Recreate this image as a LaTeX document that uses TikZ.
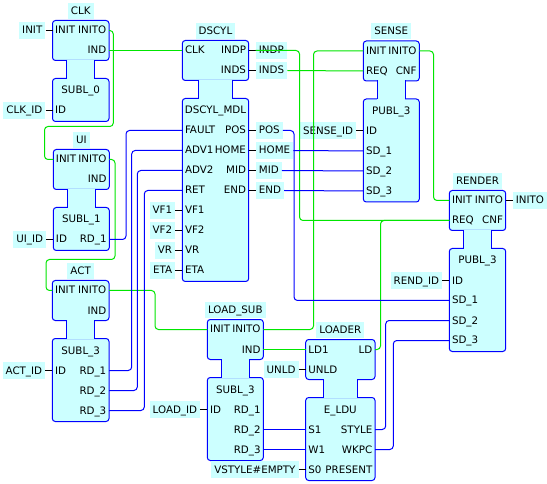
\documentclass[tikz,border=0pt]{standalone}
\usepackage{fontspec}
\setmainfont{DejaVu Sans}
\definecolor{fbcyan}{RGB}{204,255,255}
\definecolor{fbblue}{RGB}{0,0,255}
\definecolor{fbgreen}{RGB}{0,230,0}
\tikzset{
  fbbox/.style={draw=fbblue, fill=fbcyan, line width=1pt, rounded corners=3pt},
  fbline/.style={draw=fbblue, line width=1pt},
  fbtxt/.style={font=\fontsize{10.3}{12}\selectfont, text height=7.5pt, text depth=0.5pt},
  fbport/.style={fbtxt, inner sep=0pt},
  fblab/.style={fbtxt, fill=fbcyan, inner xsep=3pt, inner ysep=0pt, minimum height=17pt},
  fbtitle/.style={fblab, anchor=south, minimum height=16pt},
  tick/.style={draw=black, line width=1pt},
  ev/.style={draw=fbgreen, line width=1pt, rounded corners=3.5pt},
  dat/.style={draw=fbblue, line width=1pt, rounded corners=3.5pt},
}
% #1 id, #2 title, #3 L, #4 R, #5 first event row, #6 event rows, #7 data rows
\newcommand\fbBlock[7]{%
  \pgfmathsetmacro\fbL{#3}%
  \pgfmathsetmacro\fbR{#4}%
  \pgfmathsetmacro\fbT{#5-10}%
  \pgfmathsetmacro\fbBa{#5+20*(#6-1)+10}%
  \pgfmathsetmacro\fbBb{\fbBa+18}%
  \pgfmathsetmacro\fbBc{#5+20*(#6-1)+40+20*(#7-1)+11}%
  \pgfmathsetmacro\fbNa{#3+(#4-#3)/4}%
  \pgfmathsetmacro\fbNb{#4-(#4-#3)/4}%
  \pgfmathsetmacro\fbM{(#3+#4)/2}%
  \draw[fbbox] (\fbL,\fbT) rectangle (\fbR,\fbBa);
  \draw[fbbox] (\fbL,\fbBb) rectangle (\fbR,\fbBc);
  \fill[fbcyan] (\fbNa,\fbBa-0.8) rectangle (\fbNb,\fbBb+0.8);
  \draw[fbline] (\fbNa,\fbBa-0.5) -- (\fbNa,\fbBb+0.5) (\fbNb,\fbBa-0.5) -- (\fbNb,\fbBb+0.5);
  \node[fbtitle] (#1-title) at (\fbM,\fbT-1.5) {#2};
}
\newcommand\fbInL[3]{%
  \coordinate (#1) at (\fbL,#2);
  \node[fbport,anchor=west] (#1-t) at (\fbL+2.5,#2) {#3};}
\newcommand\fbInR[3]{%
  \coordinate (#1) at (\fbR,#2);
  \node[fbport,anchor=east] (#1-t) at (\fbR-2.5,#2) {#3};}
\newcommand\fbType[3]{\node[fbport] (#1) at (\fbM,#2) {#3};}
\newcommand\fbLabL[3]{%
  \node[fblab,anchor=east] (#2) at ([xshift=-7pt]#1) {#3};
  \draw[tick] (#2.east) -- (#1);}
\newcommand\fbLabR[3]{%
  \node[fblab,anchor=west] (#2) at ([xshift=7pt]#1) {#3};
  \draw[tick] (#1) -- (#2.west);}
\begin{document}
\begin{tikzpicture}[x=1pt,y=-1pt]
\fill[white] (0,0) rectangle (547,484);
\useasboundingbox (0,0) rectangle (547,484);

% CLK
\fbBlock{clk}{CLK}{52.5}{109}{30.5}{2}{2}
\fbInL{clk-INIT}{30.5}{INIT}
\fbInR{clk-INITO}{30.5}{INITO}
\fbInR{clk-IND}{50.5}{IND}
\fbType{clk-type}{90.5}{SUBL\_0}
\fbInL{clk-ID}{110.5}{ID}

% UI
\fbBlock{ui}{UI}{53.3}{109.3}{159.5}{2}{2}
\fbInL{ui-INIT}{159.5}{INIT}
\fbInR{ui-INITO}{159.5}{INITO}
\fbInR{ui-IND}{179.5}{IND}
\fbType{ui-type}{219.5}{SUBL\_1}
\fbInL{ui-ID}{239.5}{ID}
\fbInR{ui-RD1}{239.5}{RD\_1}

% ACT
\fbBlock{act}{ACT}{52.3}{109}{290.5}{2}{4}
\fbInL{act-INIT}{290.5}{INIT}
\fbInR{act-INITO}{290.5}{INITO}
\fbInR{act-IND}{310.5}{IND}
\fbType{act-type}{350.5}{SUBL\_3}
\fbInL{act-ID}{370.5}{ID}
\fbInR{act-RD1}{370.5}{RD\_1}
\fbInR{act-RD2}{390.5}{RD\_2}
\fbInR{act-RD3}{410.5}{RD\_3}

% DSCYL
\fbBlock{dscyl}{DSCYL}{182.3}{248.7}{50.5}{2}{9}
\fbInL{dscyl-CLK}{50.5}{CLK}
\fbInR{dscyl-INDP}{50.5}{INDP}
\fbInR{dscyl-INDS}{70.5}{INDS}
\fbType{dscyl-type}{110.5}{DSCYL\_MDL}
\fbInL{dscyl-FAULT}{130.5}{FAULT}
\fbInR{dscyl-POS}{130.5}{POS}
\fbInL{dscyl-ADV1}{150.5}{ADV1}
\fbInR{dscyl-HOME}{150.5}{HOME}
\fbInL{dscyl-ADV2}{170.5}{ADV2}
\fbInR{dscyl-MID}{170.5}{MID}
\fbInL{dscyl-RET}{190.5}{RET}
\fbInR{dscyl-END}{190.5}{END}
\fbInL{dscyl-VF1}{210.5}{VF1}
\fbInL{dscyl-VF2}{230.5}{VF2}
\fbInL{dscyl-VR}{250.5}{VR}
\fbInL{dscyl-ETA}{270.5}{ETA}

% SENSE
\fbBlock{sense}{SENSE}{363.3}{419.3}{51}{2}{5}
\fbInL{sense-INIT}{51}{INIT}
\fbInR{sense-INITO}{51}{INITO}
\fbInL{sense-REQ}{71}{REQ}
\fbInR{sense-CNF}{71}{CNF}
\fbType{sense-type}{111}{PUBL\_3}
\fbInL{sense-ID}{131}{ID}
\fbInL{sense-SD1}{151}{SD\_1}
\fbInL{sense-SD2}{171}{SD\_2}
\fbInL{sense-SD3}{191}{SD\_3}

% RENDER
\fbBlock{render}{RENDER}{449.3}{505.7}{200.5}{2}{5}
\fbInL{render-INIT}{200.5}{INIT}
\fbInR{render-INITO}{200.5}{INITO}
\fbInL{render-REQ}{220.5}{REQ}
\fbInR{render-CNF}{220.5}{CNF}
\fbType{render-type}{260.5}{PUBL\_3}
\fbInL{render-ID}{280.5}{ID}
\fbInL{render-SD1}{300.5}{SD\_1}
\fbInL{render-SD2}{320.5}{SD\_2}
\fbInL{render-SD3}{340.5}{SD\_3}

% LOAD_SUB
\fbBlock{ls}{LOAD\_SUB}{207.3}{263.3}{329.5}{2}{4}
\fbInL{ls-INIT}{329.5}{INIT}
\fbInR{ls-INITO}{329.5}{INITO}
\fbInR{ls-IND}{349.5}{IND}
\fbType{ls-type}{389.5}{SUBL\_3}
\fbInL{ls-ID}{409.5}{ID}
\fbInR{ls-RD1}{409.5}{RD\_1}
\fbInR{ls-RD2}{429.5}{RD\_2}
\fbInR{ls-RD3}{449.5}{RD\_3}

% LOADER
\fbBlock{ld}{LOADER}{305.7}{375}{349.5}{2}{4}
\fbInL{ld-LD1}{349.5}{LD1}
\fbInR{ld-LD}{349.5}{LD}
\fbInL{ld-UNLD}{369.5}{UNLD}
\fbType{ld-type}{409.5}{E\_LDU}
\fbInL{ld-S1}{429.5}{S1}
\fbInR{ld-STYLE}{429.5}{STYLE}
\fbInL{ld-W1}{449.5}{W1}
\fbInR{ld-WKPC}{449.5}{WKPC}
\fbInL{ld-S0}{469.5}{S0}
\fbInR{ld-PRESENT}{469.5}{PRESENT}

% external labels
\fbLabL{clk-INIT}{lclkinit}{INIT}
\fbLabL{clk-ID}{lclkid}{CLK\_ID}
\fbLabL{ui-ID}{luiid}{UI\_ID}
\fbLabL{act-ID}{lactid}{ACT\_ID}
\fbLabL{dscyl-VF1}{lvf1}{VF1}
\fbLabL{dscyl-VF2}{lvf2}{VF2}
\fbLabL{dscyl-VR}{lvr}{VR}
\fbLabL{dscyl-ETA}{leta}{ETA}
\fbLabR{dscyl-INDP}{lindp}{INDP}
\fbLabR{dscyl-INDS}{linds}{INDS}
\fbLabR{dscyl-POS}{lpos}{POS}
\fbLabR{dscyl-HOME}{lhome}{HOME}
\fbLabR{dscyl-MID}{lmid}{MID}
\fbLabR{dscyl-END}{lend}{END}
\fbLabL{sense-ID}{lsenseid}{SENSE\_ID}
\fbLabL{render-ID}{lrendid}{REND\_ID}
\fbLabR{render-INITO}{linito}{INITO}
\fbLabL{ls-ID}{lloadid}{LOAD\_ID}
\fbLabL{ld-UNLD}{lunld}{UNLD}
\fbLabL{ld-S0}{lvstyle}{VSTYLE\#EMPTY}

% event connections
\draw[ev] (clk-INITO) -| (113.3,126.5) -- (44.5,126.5) |- (ui-INIT);
\draw[ev] (ui-INITO) -| (115,259.5) -- (46,259.5) |- (act-INIT);
\draw[ev] (act-INITO) -| (155,329.5) -- (ls-INIT);
\draw[ev] (ls-INITO) -| (313.5,51) -- (sense-INIT);
\draw[ev] (ls-IND) -- (ld-LD1);
\draw[ev] (clk-IND) -- (dscyl-CLK);
\draw[ev] (lindp.west) -| (299.5,220.5) -- (render-REQ);
\draw[ev] (linds.east) -- (sense-REQ);
\draw[ev] (sense-INITO) -| (433.5,200.5) -- (render-INIT);
\draw[ev] (ld-LD) -| (380.5,220.5) -- (render-REQ);

% data connections
\draw[dat] (ui-RD1) -| (126,130.5) -- (dscyl-FAULT);
\draw[dat] (act-RD1) -| (131.7,150.5) -- (dscyl-ADV1);
\draw[dat] (act-RD2) -| (137.3,170.5) -- (dscyl-ADV2);
\draw[dat] (act-RD3) -| (144.3,190.5) -- (dscyl-RET);
\draw[dat] (lpos.east) -| (294,300.5) -- (render-SD1);
\draw[dat] (lhome.east) -- (sense-SD1);
\draw[dat] (lmid.east) -- (sense-SD2);
\draw[dat] (lend.east) -- (sense-SD3);
\draw[dat] (ls-RD2) -- (ld-S1);
\draw[dat] (ls-RD3) -- (ld-W1);
\draw[dat] (ld-STYLE) -| (385.7,320.5) -- (render-SD2);
\draw[dat] (ld-WKPC) -| (393.3,340.5) -- (render-SD3);
\end{tikzpicture}
\end{document}
